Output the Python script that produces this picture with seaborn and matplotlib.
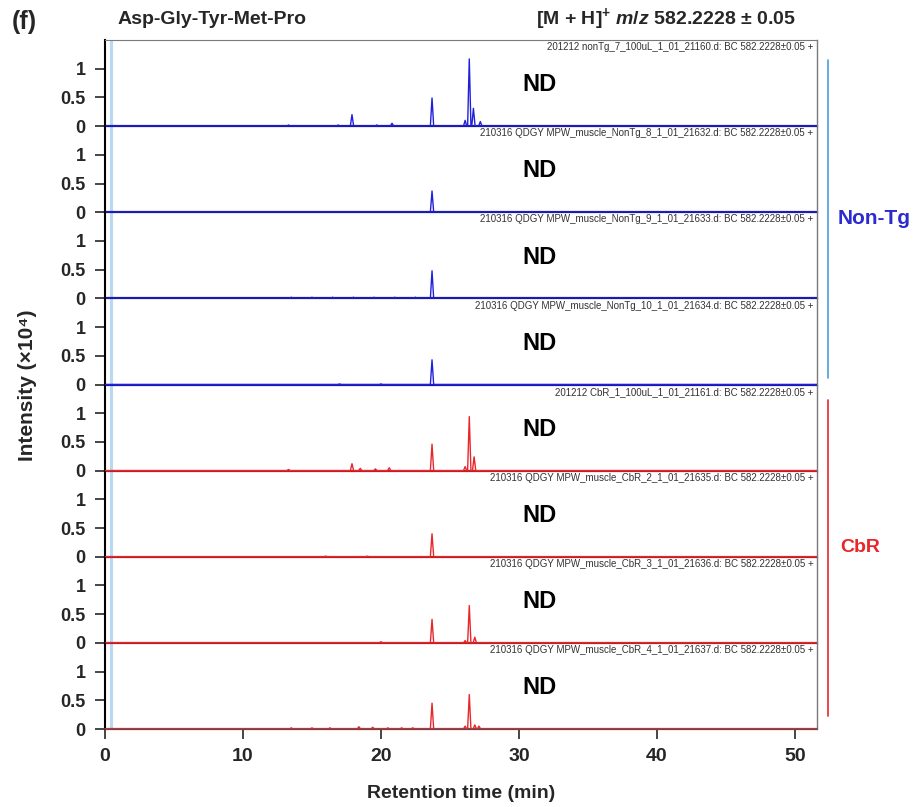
import numpy as np
import pandas as pd
import matplotlib
matplotlib.use('Agg')
import matplotlib.pyplot as plt
import seaborn as sns

sns.set_style('white')
plt.rcParams['font.family'] = ['Liberation Sans', 'DejaVu Sans']
plt.rcParams['mathtext.fontset'] = 'custom'
plt.rcParams['mathtext.rm'] = 'Liberation Sans:bold'
plt.rcParams['mathtext.bf'] = 'Liberation Sans:bold'
plt.rcParams['mathtext.it'] = 'Liberation Sans:bold:italic'

# sample names (top right of every trace)
sample_names = [
    '201212 nonTg_7_100uL_1_01_21160.d: BC 582.2228\u00b10.05 +',
    '210316 QDGY MPW_muscle_NonTg_8_1_01_21632.d: BC 582.2228\u00b10.05 +',
    '210316 QDGY MPW_muscle_NonTg_9_1_01_21633.d: BC 582.2228\u00b10.05 +',
    '210316 QDGY MPW_muscle_NonTg_10_1_01_21634.d: BC 582.2228\u00b10.05 +',
    '201212 CbR_1_100uL_1_01_21161.d: BC 582.2228\u00b10.05 +',
    '210316 QDGY MPW_muscle_CbR_2_1_01_21635.d: BC 582.2228\u00b10.05 +',
    '210316 QDGY MPW_muscle_CbR_3_1_01_21636.d: BC 582.2228\u00b10.05 +',
    '210316 QDGY MPW_muscle_CbR_4_1_01_21637.d: BC 582.2228\u00b10.05 +',
]
groups = ['Non-Tg'] * 4 + ['CbR'] * 4

# peak retention times (min) and intensities (x10^4)
rt_nontg7 = [13.3, 16.9, 17.9, 19.7, 20.8, 23.7, 26.1, 26.4, 26.7, 27.2]
int_nontg7 = [0.02, 0.02, 0.20, 0.02, 0.05, 0.49, 0.10, 1.17, 0.31, 0.08]
rt_nontg8 = [14.0, 17.0, 23.7]
int_nontg8 = [0.01, 0.01, 0.37]
rt_nontg9 = [13.5, 15.0, 16.5, 18.0, 19.5, 21.0, 22.5, 23.7]
int_nontg9 = [0.02, 0.02, 0.02, 0.02, 0.02, 0.02, 0.02, 0.48]
rt_nontg10 = [17.0, 20.0, 23.7]
int_nontg10 = [0.01, 0.01, 0.43]
rt_cbr1 = [13.3, 17.9, 18.5, 19.6, 20.6, 23.7, 26.1, 26.4, 26.75]
int_cbr1 = [0.02, 0.12, 0.04, 0.03, 0.05, 0.46, 0.07, 0.94, 0.24]
rt_cbr2 = [16.0, 19.0, 23.7]
int_cbr2 = [0.01, 0.01, 0.40]
rt_cbr3 = [20.0, 23.7, 26.1, 26.4, 26.8]
int_cbr3 = [0.02, 0.41, 0.04, 0.65, 0.10]
rt_cbr4 = [13.5, 15.0, 16.3, 18.4, 19.4, 20.5, 21.5, 22.3, 23.7, 26.1, 26.4, 26.8, 27.1]
int_cbr4 = [0.02, 0.02, 0.02, 0.04, 0.03, 0.02, 0.02, 0.02, 0.45, 0.05, 0.60, 0.07, 0.05]

traces = [(rt_nontg7, int_nontg7), (rt_nontg8, int_nontg8),
          (rt_nontg9, int_nontg9), (rt_nontg10, int_nontg10),
          (rt_cbr1, int_cbr1), (rt_cbr2, int_cbr2),
          (rt_cbr3, int_cbr3), (rt_cbr4, int_cbr4)]

x_ticks = [0, 10, 20, 30, 40, 50]
y_ticks = [0, 0.5, 1]
y_tick_labels = ['0', '0.5', '1']

colors = {'Non-Tg': '#2020dc', 'CbR': '#e8262b'}
base_colors = {'Non-Tg': '#1a1aa8', 'CbR': '#c01e24'}
t_end = 51.6
hw = 0.12  # half width of a peak on the plot


def trace_frame(rts, ints):
    xs, ys = [0.0], [0.0]
    for t, h in sorted(zip(rts, ints)):
        xs += [t - hw, t, t + hw]
        ys += [0.0, h, 0.0]
    xs.append(t_end)
    ys.append(0.0)
    return pd.DataFrame({'time': xs, 'intensity': ys})


fig = plt.figure(figsize=(9.14, 8.07), dpi=100)
left, width = 105 / 914, 712 / 914
top, bottom = 1 - 40 / 807, 1 - 729 / 807
ph = (top - bottom) / 8

axes = []
for i, (rts, ints) in enumerate(traces):
    ax = fig.add_axes([left, top - (i + 1) * ph, width, ph], zorder=20 - i)
    axes.append(ax)
    g = groups[i]
    ax.axvline(0.45, color='#b9d9f2', lw=2.2, zorder=1)
    ax.axhline(0, color=base_colors[g], lw=1.6, zorder=2, clip_on=False)
    sns.lineplot(data=trace_frame(rts, ints), x='time', y='intensity', ax=ax,
                 color=colors[g], lw=1.0, estimator=None, sort=False, zorder=3)
    ax.set_xlim(0, t_end)
    ax.set_ylim(0, 1.5)
    ax.set_xlabel('')
    ax.set_ylabel('')
    ax.set_yticks(y_ticks)
    ax.set_yticklabels(y_tick_labels, fontsize=13, fontweight='bold')
    ax.tick_params(axis='y', direction='out', length=7, width=1.2, left=True, pad=7)
    ax.spines['top'].set_visible(i == 0)
    ax.spines['top'].set_color('#7a7a7a')
    ax.spines['right'].set_color('#7a7a7a')
    ax.spines['right'].set_linewidth(1.0)
    ax.spines['left'].set_color('black')
    ax.spines['left'].set_linewidth(1.5)
    ax.spines['bottom'].set_visible(False)
    ax.set_facecolor('none')
    if i < 7:
        ax.set_xticks([])
    else:
        ax.spines['bottom'].set_visible(True)
        ax.spines['bottom'].set_color('#555555')
        ax.spines['bottom'].set_linewidth(1.2)
        ax.set_xticks(x_ticks)
        ax.set_xticklabels([str(v) for v in x_ticks], fontsize=14, fontweight='bold')
        ax.tick_params(axis='x', direction='out', length=7, width=1.2, bottom=True, pad=7)
        ax.set_xlabel('Retention time (min)', fontsize=14, fontweight='bold', labelpad=14)
    ax.text(0.995, 0.975, sample_names[i], transform=ax.transAxes, ha='right', va='top',
            fontsize=7, color='#333333')
    ax.text(31.5, 0.72, 'ND', ha='center', va='center', fontsize=17, fontweight='bold',
            color='black')

# header texts
fig.text(12 / 914, 1 - 22 / 807, '(f)', fontsize=18, fontweight='bold', ha='left', va='center')
fig.text(118 / 914, 1 - 19 / 807, 'Asp-Gly-Tyr-Met-Pro', fontsize=14, fontweight='bold',
         ha='left', va='center')
fig.text(536 / 914, 1 - 19 / 807,
         r'[M + H]$^{+}$ $\mathit{m/z}$ 582.2228 $\pm$ 0.05',
         fontsize=14, fontweight='bold', ha='left', va='center')

fig.text(28 / 914, 1 - 385 / 807, 'Intensity (\u00d710\u2074)', fontsize=15, fontweight='bold',
         rotation=90, ha='center', va='center')

# group brackets on the right
fig.add_artist(plt.Line2D([828 / 914, 828 / 914], [1 - 60 / 807, 1 - 378 / 807],
                          color='#4aa0d8', lw=1.2))
fig.add_artist(plt.Line2D([828 / 914, 828 / 914], [1 - 400 / 807, 1 - 716 / 807],
                          color=colors['CbR'], lw=1.2))
fig.text(838 / 914, 1 - 218 / 807, 'Non-Tg', color='#2b2bd0', fontsize=15, fontweight='bold',
         ha='left', va='center')
fig.text(840 / 914, 1 - 548 / 807, 'CbR', color=colors['CbR'], fontsize=14, fontweight='bold',
         ha='left', va='center')

fig.savefig('out.png', dpi=100)
